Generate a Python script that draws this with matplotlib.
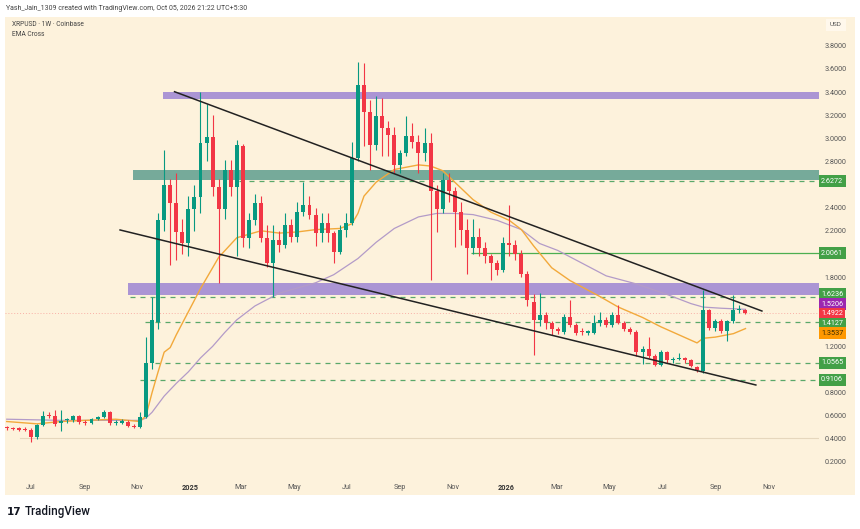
import numpy as np
import pandas as pd
import matplotlib
matplotlib.use('Agg')
import matplotlib.pyplot as plt
import matplotlib.dates as mdates
from matplotlib.patches import Rectangle

plt.rcParams['font.family'] = ['Roboto', 'DejaVu Sans']

# weekly candles, XRPUSD 1W
dates = pd.date_range('2024-06-03', periods=123, freq='7D')
opens = [0.50, 0.495, 0.49, 0.485, 0.477, 0.415, 0.52, 0.60, 0.598, 0.534,
         0.56, 0.563, 0.598, 0.548, 0.534, 0.569, 0.586, 0.635, 0.54, 0.534,
         0.548, 0.514, 0.50, 0.59, 1.053, 1.413, 2.29, 2.60, 2.44, 2.19,
         2.09, 2.39, 2.49, 2.96, 3.01, 2.58, 2.39, 2.73, 2.58, 2.93,
         2.135, 2.29, 2.44, 2.135, 1.92, 2.12, 2.08, 2.25, 2.15, 2.365,
         2.42, 2.34, 2.18, 2.265, 2.18, 2.02, 2.21, 2.265, 2.83, 3.46,
         3.23, 2.94, 3.19, 3.09, 3.03, 2.77, 2.87, 3.02, 2.97, 2.87,
         2.96, 2.54, 2.385, 2.64, 2.54, 2.365, 2.21, 2.05, 2.15, 2.05,
         1.98, 1.92, 1.86, 2.09, 2.08, 2.00, 1.83, 1.587, 1.43, 1.47,
         1.40, 1.35, 1.327, 1.45, 1.385, 1.33, 1.32, 1.32, 1.40, 1.43,
         1.385, 1.47, 1.40, 1.35, 1.327, 1.154, 1.18, 1.117, 1.039, 1.154,
         1.08, 1.09, 1.10, 1.08, 1.025, 0.99, 1.515, 1.356, 1.42, 1.335,
         1.42, 1.515, 1.515]
highs = [0.51, 0.505, 0.50, 0.50, 0.49, 0.53, 0.64, 0.63, 0.65, 0.65,
         0.58, 0.61, 0.61, 0.56, 0.58, 0.60, 0.65, 0.645, 0.56, 0.57,
         0.56, 0.53, 0.635, 1.28, 1.63, 2.35, 2.90, 2.65, 2.70, 2.30,
         2.50, 2.60, 3.40, 3.30, 3.20, 2.65, 2.81, 2.81, 2.985, 2.95,
         2.35, 2.52, 2.50, 2.25, 2.25, 2.20, 2.35, 2.30, 2.45, 2.625,
         2.50, 2.40, 2.35, 2.35, 2.20, 2.25, 2.35, 2.97, 3.66, 3.65,
         3.33, 3.37, 3.35, 3.15, 3.10, 2.90, 3.19, 3.13, 3.03, 3.09,
         3.05, 2.60, 2.70, 2.70, 2.58, 2.45, 2.30, 2.30, 2.22, 2.10,
         2.00, 1.95, 2.15, 2.42, 2.12, 2.03, 1.85, 1.65, 1.66, 1.50,
         1.42, 1.37, 1.48, 1.60, 1.40, 1.36, 1.34, 1.47, 1.50, 1.45,
         1.50, 1.56, 1.42, 1.37, 1.34, 1.20, 1.28, 1.13, 1.17, 1.16,
         1.11, 1.14, 1.11, 1.09, 1.03, 1.69, 1.52, 1.44, 1.44, 1.43,
         1.645, 1.56, 1.52]
lows = [0.48, 0.475, 0.47, 0.465, 0.376, 0.40, 0.51, 0.58, 0.51, 0.47,
        0.54, 0.55, 0.53, 0.52, 0.53, 0.56, 0.58, 0.52, 0.52, 0.53,
        0.50, 0.49, 0.49, 0.58, 1.00, 1.35, 2.20, 1.90, 1.95, 2.00,
        1.98, 2.20, 2.35, 2.80, 2.50, 1.75, 2.30, 2.50, 1.98, 2.06,
        2.05, 2.25, 2.10, 1.89, 1.63, 2.02, 2.05, 2.10, 2.10, 2.33,
        2.30, 2.07, 2.10, 2.10, 1.92, 2.00, 2.15, 2.25, 2.80, 2.93,
        2.73, 2.90, 2.85, 2.85, 2.70, 2.70, 2.85, 2.92, 2.70, 2.80,
        1.77, 2.19, 2.35, 2.45, 2.06, 2.08, 1.83, 2.00, 1.98, 1.92,
        1.77, 1.82, 1.84, 1.98, 1.95, 1.80, 1.55, 1.125, 1.38, 1.35,
        1.30, 1.31, 1.31, 1.37, 1.30, 1.30, 1.30, 1.31, 1.38, 1.37,
        1.37, 1.39, 1.33, 1.31, 1.12, 1.05, 1.10, 1.03, 1.03, 1.06,
        1.06, 1.08, 1.06, 1.02, 0.98, 0.97, 1.34, 1.33, 1.32, 1.25,
        1.40, 1.49, 1.48]
closes = [0.49, 0.485, 0.48, 0.475, 0.415, 0.52, 0.60, 0.595, 0.525, 0.557,
          0.565, 0.598, 0.543, 0.534, 0.569, 0.586, 0.635, 0.534, 0.543, 0.557,
          0.514, 0.50, 0.59, 1.053, 1.428, 2.29, 2.60, 2.44, 2.19, 2.09,
          2.39, 2.49, 2.96, 3.01, 2.58, 2.39, 2.73, 2.58, 2.94, 2.135,
          2.29, 2.44, 2.135, 1.92, 2.12, 2.08, 2.25, 2.15, 2.365, 2.42,
          2.34, 2.18, 2.265, 2.18, 2.02, 2.21, 2.265, 2.83, 3.46, 3.23,
          2.94, 3.19, 3.09, 3.03, 2.77, 2.87, 3.02, 2.97, 2.87, 2.96,
          2.54, 2.385, 2.64, 2.54, 2.365, 2.21, 2.05, 2.15, 2.05, 1.98,
          1.92, 1.86, 2.09, 2.08, 2.00, 1.83, 1.60, 1.43, 1.47, 1.40,
          1.35, 1.33, 1.45, 1.385, 1.32, 1.325, 1.325, 1.40, 1.43, 1.385,
          1.47, 1.40, 1.35, 1.327, 1.154, 1.18, 1.117, 1.039, 1.154, 1.08,
          1.09, 1.10, 1.08, 1.03, 0.996, 1.515, 1.356, 1.42, 1.335, 1.42,
          1.515, 1.52, 1.4922]

# EMA cross lines
ema_fast_dates = ['2024-06-03', '2024-07-08', '2024-08-05', '2024-09-02', '2024-10-07',
                  '2024-11-04', '2024-11-11', '2024-11-18', '2024-11-25', '2024-12-02',
                  '2024-12-09', '2024-12-16', '2024-12-23', '2024-12-30', '2025-01-06',
                  '2025-01-13', '2025-01-20', '2025-02-03', '2025-02-24', '2025-03-10',
                  '2025-03-24', '2025-04-14', '2025-05-05', '2025-05-26', '2025-06-23',
                  '2025-07-07', '2025-07-14', '2025-07-21', '2025-08-04', '2025-08-25',
                  '2025-09-22', '2025-10-06', '2025-10-20', '2025-11-03', '2025-11-24',
                  '2025-12-15', '2026-01-05', '2026-01-19', '2026-02-02', '2026-02-23',
                  '2026-03-16', '2026-04-20', '2026-05-11', '2026-06-08', '2026-06-29',
                  '2026-07-20', '2026-08-10', '2026-08-17', '2026-08-31', '2026-09-21',
                  '2026-10-05']
ema_fast = [0.55, 0.53, 0.55, 0.56, 0.57, 0.55, 0.60, 0.80, 0.98, 1.15,
            1.19, 1.30, 1.40, 1.50, 1.60, 1.70, 1.79, 1.97, 2.14, 2.17,
            2.20, 2.18, 2.19, 2.21, 2.22, 2.26, 2.35, 2.50, 2.62, 2.73,
            2.77, 2.76, 2.72, 2.62, 2.47, 2.36, 2.29, 2.21, 2.07, 1.88,
            1.77, 1.63, 1.54, 1.45, 1.37, 1.30, 1.23, 1.27, 1.28, 1.31,
            1.354]
ema_slow_dates = ['2024-06-03', '2024-08-05', '2024-10-07', '2024-11-04', '2024-11-11',
                  '2024-11-18', '2024-11-25', '2024-12-02', '2024-12-16', '2024-12-30',
                  '2025-01-13', '2025-01-27', '2025-02-10', '2025-02-24', '2025-03-17',
                  '2025-04-14', '2025-05-26', '2025-06-16', '2025-07-14', '2025-08-04',
                  '2025-08-25', '2025-09-22', '2025-10-13', '2025-11-03', '2025-11-24',
                  '2025-12-22', '2026-01-19', '2026-02-09', '2026-03-02', '2026-03-30',
                  '2026-04-27', '2026-06-01', '2026-07-06', '2026-08-03', '2026-08-17',
                  '2026-09-07', '2026-10-05']
ema_slow = [0.57, 0.56, 0.56, 0.56, 0.58, 0.63, 0.70, 0.77, 0.88, 0.98,
            1.10, 1.20, 1.32, 1.43, 1.55, 1.66, 1.75, 1.82, 1.96, 2.10,
            2.22, 2.32, 2.35, 2.35, 2.34, 2.29, 2.21, 2.09, 2.03, 1.92,
            1.81, 1.74, 1.65, 1.57, 1.54, 1.53, 1.5206]

# drawings: trend lines, zones, levels
upper_trend = (['2024-12-14', '2026-10-24'], [3.403, 1.506])
lower_trend = (['2024-10-12', '2026-10-17'], [2.207, 0.866])
zone_starts = ['2024-12-01', '2024-10-27', '2024-10-21']
zone_lows = [3.337, 2.64, 1.645]
zone_highs = [3.403, 2.725, 1.746]
zone_colors = ['#9d85d3', '#5f9e8f', '#9d85d3']
dashed_levels = [2.6272, 1.6236, 1.4127, 1.0565, 0.9106]
dashed_starts = ['2025-02-27', '2024-10-24', '2024-11-10', '2024-11-21', '2024-11-04']
solid_level = 2.0061
solid_start = '2025-11-22'

# right price-scale labels
label_values = [2.6272, 2.0061, 1.6236, 1.5206, 1.4922, 1.4127, 1.3537, 1.0565, 0.9106]
label_colors = ['#43a047', '#43a047', '#43a047', '#9c27b0', '#f23645', '#43a047',
                '#ff9800', '#43a047', '#43a047']

month_ticks = ['2024-07-01', '2024-09-01', '2024-11-01', '2025-01-01', '2025-03-01',
               '2025-05-01', '2025-07-01', '2025-09-01', '2025-11-01', '2026-01-01',
               '2026-03-01', '2026-05-01', '2026-07-01', '2026-09-01', '2026-11-01']
month_labels = ['Jul', 'Sep', 'Nov', '2025', 'Mar', 'May', 'Jul', 'Sep', 'Nov', '2026',
                'Mar', 'May', 'Jul', 'Sep', 'Nov']

bg = '#fdf2dc'
up_c, dn_c = '#089981', '#f23645'

W, H = 860, 529
fig = plt.figure(figsize=(8.6, 5.29), dpi=100, facecolor='white')
fig.patches.append(Rectangle((5 / W, 1 - 495 / H), 850 / W, 478 / H,
                             transform=fig.transFigure, facecolor=bg,
                             edgecolor='none', zorder=-5))
ax = fig.add_axes([5 / W, 1 - 478 / H, 814 / W, 461 / H])
ax.set_facecolor(bg)
for s in ax.spines.values():
    s.set_visible(False)

t0 = mdates.datestr2num('2025-01-01')
ax.set_xlim(t0 - 214, t0 + 727)
ax.set_ylim(0.0614, 4.0493)
xmax = t0 + 727

x = mdates.date2num(dates)
o = np.array(opens); h = np.array(highs); l = np.array(lows); c = np.array(closes)
cols = np.where(c >= o, up_c, dn_c)

# faint lines
ax.axhline(0.405, xmin=15 / 814, color='#e6d7bd', lw=0.8, zorder=1)
ax.axhline(1.4922, color=dn_c, lw=0.7, ls=(0, (1, 2)), alpha=0.35, zorder=1)

# zones
for st, lo, hi, col in zip(zone_starts, zone_lows, zone_highs, zone_colors):
    xs = mdates.datestr2num(st)
    ax.add_patch(Rectangle((xs, lo), xmax - xs, hi - lo, facecolor=col,
                           edgecolor='none', alpha=0.85, zorder=2))

for lev, st in zip(dashed_levels, dashed_starts):
    ax.hlines(lev, mdates.datestr2num(st), xmax, colors='#5aa86a', lw=0.9,
              linestyles=(0, (4, 4)), zorder=2)
ax.hlines(solid_level, mdates.datestr2num(solid_start), xmax, colors='#4caf50',
          lw=0.9, zorder=2)

# EMAs
ax.plot(mdates.datestr2num(ema_slow_dates), ema_slow, color='#b39bc8', lw=0.9, zorder=3)
ax.plot(mdates.datestr2num(ema_fast_dates), ema_fast, color='#f2a93b', lw=1.0, zorder=3)

# candles
ax.vlines(x, l, h, colors=cols, lw=0.8, zorder=4)
body_lo = np.minimum(o, c)
body_h = np.maximum(np.abs(c - o), 0.01)
ax.bar(x, body_h, bottom=body_lo, width=4.6, color=cols, edgecolor='none', zorder=5)

# trend lines
ax.plot(mdates.datestr2num(upper_trend[0]), upper_trend[1], color='#222222', lw=1.1, zorder=6)
ax.plot(mdates.datestr2num(lower_trend[0]), lower_trend[1], color='#222222', lw=1.1, zorder=6)

# axes ticks
ax.set_xticks(mdates.datestr2num(month_ticks))
ax.set_xticklabels(month_labels)
ax.tick_params(axis='x', length=0, pad=4.5, labelsize=5.2, labelcolor='#555555')
for lab in ax.get_xticklabels():
    if lab.get_text().isdigit():
        lab.set_color('#333333')
        lab.set_fontweight('bold')


def spread(vals, step):
    order = sorted(range(len(vals)), key=lambda i: -vals[i])
    groups = [[i] for i in order]
    pos = {}
    while True:
        for g in groups:
            m = np.mean([vals[i] for i in g])
            for k, i in enumerate(g):
                pos[i] = m + (len(g) - 1) / 2 * step - k * step
        merged = False
        for a in range(len(groups) - 1):
            if pos[groups[a][-1]] - pos[groups[a + 1][0]] < step:
                groups[a] += groups.pop(a + 1)
                merged = True
                break
        if not merged:
            return [pos[i] for i in range(len(vals))]


label_pos = spread(label_values, 0.084)

# price scale: skip ticks hidden behind a label box
ax.yaxis.tick_right()
yt = [v for v in np.arange(0.2, 3.81, 0.2)
      if min(abs(v - p) for p in label_pos) > 0.065]
ax.set_yticks(yt)
ax.set_yticklabels(['%.4f' % v for v in yt])
ax.tick_params(axis='y', length=0, pad=4, labelsize=5.2, labelcolor='#555555')

for v, p, col in zip(label_values, label_pos, label_colors):
    tc = '#3a2a00' if col == '#ff9800' else 'white'
    ax.annotate('%.4f' % v, xy=(1, p), xycoords=ax.get_yaxis_transform(),
                xytext=(1.5, 0), textcoords='offset points', ha='left', va='center',
                fontsize=5.2, color=tc, zorder=10, annotation_clip=False,
                bbox=dict(boxstyle='square,pad=0.35', fc=col, ec='none'))

# header / legend texts
fig.text(6 / W, 1 - 9 / H, 'Yash_Jain_1309 created with TradingView.com, Oct 05, 2026 21:22 UTC+5:30',
         fontsize=5.0, color='#444444', va='center')
fig.text(12 / W, 1 - 24 / H, 'XRPUSD · 1W · Coinbase', fontsize=4.8, color='#444444', va='center')
fig.text(12 / W, 1 - 34 / H, 'EMA Cross', fontsize=4.8, color='#444444', va='center')
fig.text(836 / W, 1 - 25 / H, 'USD', fontsize=4.6, color='#555555', va='center', ha='center',
         bbox=dict(boxstyle='square,pad=0.6', fc='#fff8ec', ec='none'))

# TradingView logo
fig.text(7 / W, 1 - 512 / H, '17', fontsize=7.5, fontweight='bold', color='#131722',
         va='center', family='DejaVu Sans')
fig.text(25 / W, 1 - 512 / H, 'TradingView', fontsize=8.4, fontweight='medium',
         color='#131722', va='center')

fig.savefig('out.png', dpi=100, facecolor='white')
